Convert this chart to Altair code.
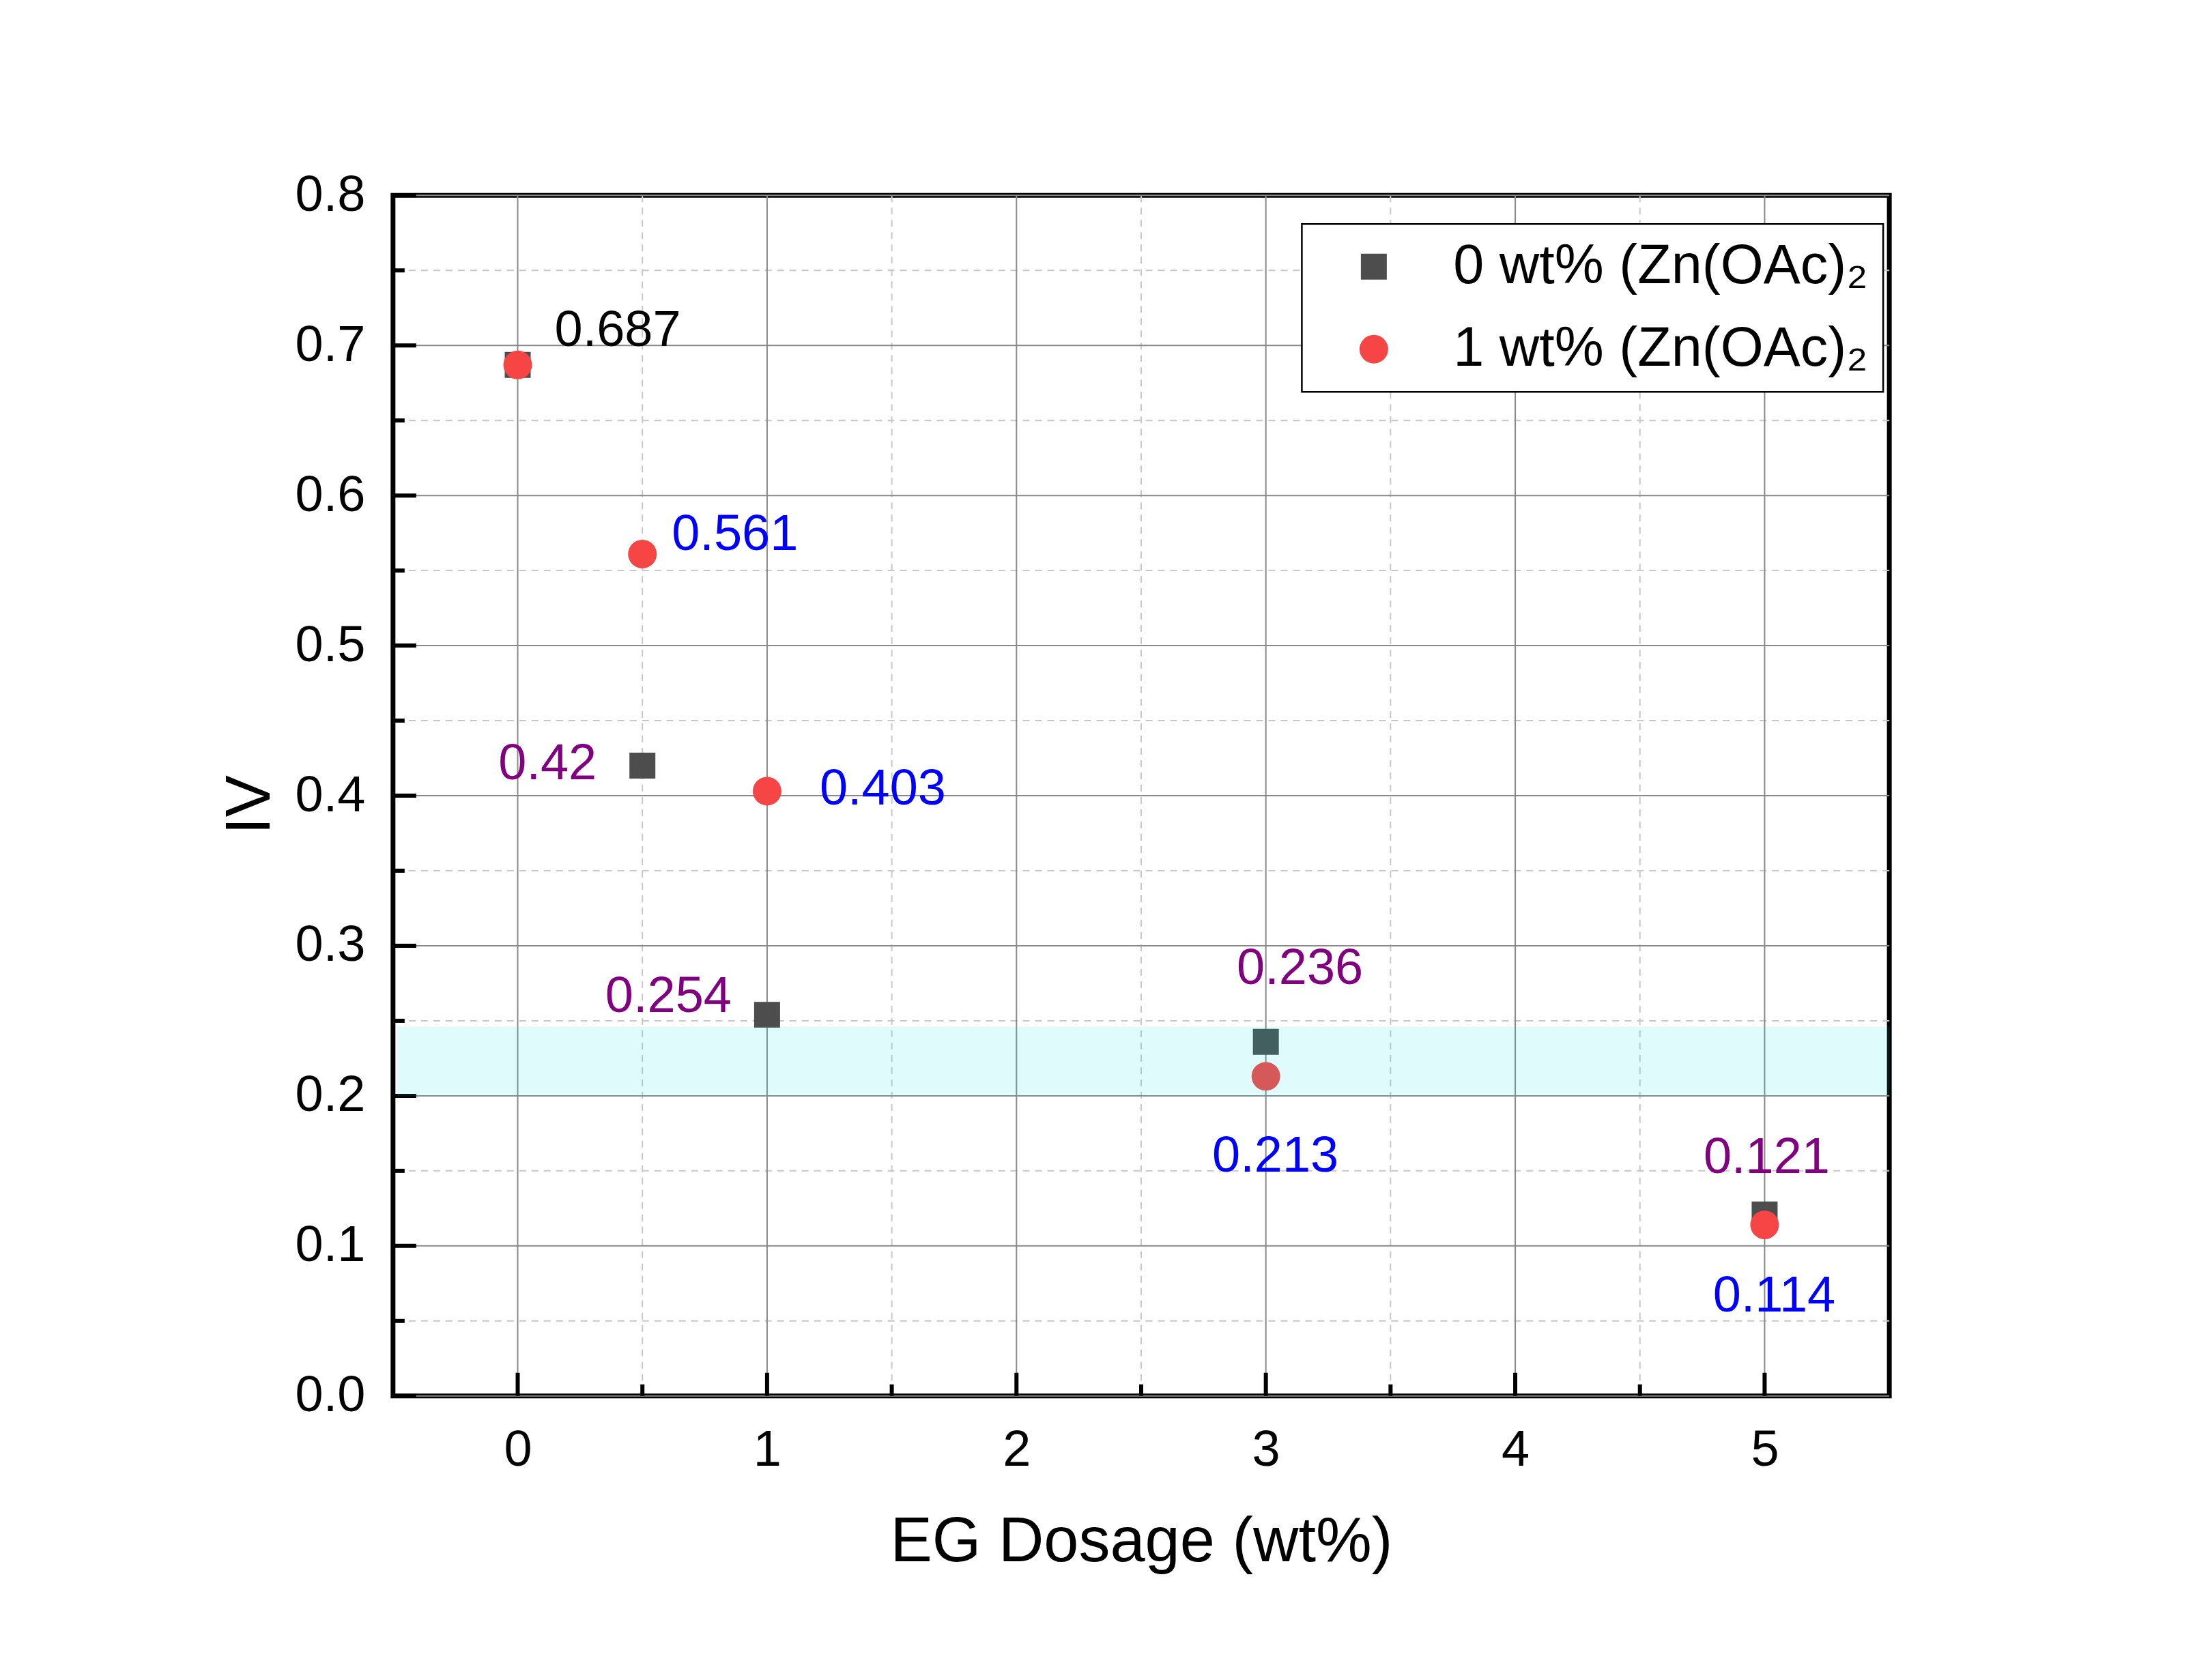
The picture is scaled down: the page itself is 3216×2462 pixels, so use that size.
import altair as alt
import pandas as pd

# ---------------- data ----------------
eg_dosage = [0, 0.5, 1, 3, 5]
iv_0wt = [0.687, 0.42, 0.254, 0.236, 0.121]
iv_1wt = [0.687, 0.561, 0.403, 0.213, 0.114]
series_names = ["0 wt% (Zn(OAc)\u2082", "1 wt% (Zn(OAc)\u2082"]

x_major = [0, 1, 2, 3, 4, 5]
x_minor = [0.5, 1.5, 2.5, 3.5, 4.5]
y_major = [0.0, 0.1, 0.2, 0.3, 0.4, 0.5, 0.6, 0.7, 0.8]
y_minor = [0.05, 0.15, 0.25, 0.35, 0.45, 0.55, 0.65, 0.75]
band_lo = [0.2]
band_hi = [0.246]

# ---------------- layout / style ----------------
W, H = 2193, 1760
FONT = "Liberation Sans"
xs = alt.Scale(domain=[-0.5, 5.5], nice=False, zero=False)
ys = alt.Scale(domain=[0.0, 0.8], nice=False, zero=False)
X_TITLE = "EG Dosage (wt%)"
Y_TITLE = "IV"

xaxis = alt.Axis(values=x_major, format="d", labelFontSize=74, labelColor="black",
                 labelPadding=44, ticks=False, tickSize=0, domain=False, grid=False,
                 titleFontSize=92, titleFontWeight="normal", titleColor="black",
                 titleX=W / 2, titleY=242, titleAlign="center", titleBaseline="alphabetic")
yaxis = alt.Axis(values=y_major, format=".1f", labelFontSize=74, labelColor="black",
                 labelPadding=41, ticks=False, tickSize=0, domain=False, grid=False,
                 titleFontSize=92, titleFontWeight="normal", titleColor="black",
                 titleAngle=270, titleX=-181, titleY=893, titleAlign="center",
                 titleBaseline="alphabetic")


def X(field):
    return alt.X(field, type="quantitative", scale=xs, axis=xaxis, title=X_TITLE)


def Y(field):
    return alt.Y(field, type="quantitative", scale=ys, axis=yaxis, title=Y_TITLE)


rows = []
for s, vals in zip(series_names, [iv_0wt, iv_1wt]):
    for i, (x, y) in enumerate(zip(eg_dosage, vals)):
        rows.append({"x": x, "iv": y, "series": s, "idx": i, "txt": str(y)})
pts = pd.DataFrame(rows)

grid_major_x = pd.DataFrame({"x": x_major})
grid_minor_x = pd.DataFrame({"x": x_minor})
grid_major_y = pd.DataFrame({"iv": y_major})
grid_minor_y = pd.DataFrame({"iv": y_minor})
band_df = pd.DataFrame({"iv": band_lo, "iv_hi": band_hi})

minor_style = dict(color="#c8c8c8", strokeWidth=2, strokeDash=[10, 8])
major_style = dict(color="#888888", strokeWidth=2)

g1 = alt.Chart(grid_minor_x).mark_rule(**minor_style).encode(x=X("x"))
g2 = alt.Chart(grid_minor_y).mark_rule(**minor_style).encode(y=Y("iv"))
g3 = alt.Chart(grid_major_x).mark_rule(**major_style).encode(x=X("x"))
g4 = alt.Chart(grid_major_y).mark_rule(**major_style).encode(y=Y("iv"))

color_scale = alt.Scale(domain=series_names, range=["#4d4d4d", "#f54545"])
shape_scale = alt.Scale(domain=series_names, range=["square", "circle"])
size_scale = alt.Scale(domain=series_names, range=[1444, 1764])

points = alt.Chart(pts).mark_point(filled=True, opacity=1, strokeWidth=0).encode(
    x=X("x"),
    y=Y("iv"),
    color=alt.Color("series:N", scale=color_scale,
                    legend=alt.Legend(title=None, orient="none", legendX=1332, legendY=42,
                                      strokeColor="black", fillColor="white",
                                      padding=22, symbolOffset=43, labelOffset=76,
                                      labelFontSize=81, labelLimit=3000, labelColor="black",
                                      symbolSize=1550, symbolStrokeWidth=0,
                                      symbolOpacity=1)),
    shape=alt.Shape("series:N", scale=shape_scale),
    size=alt.Size("series:N", scale=size_scale, legend=None),
    order=alt.Order("series:N", sort="ascending"),
)

band = alt.Chart(band_df).mark_rect(color="#00e5e5", opacity=0.12, stroke="#b0b0b0",
                                   strokeWidth=2, strokeOpacity=0.6).encode(
    y=Y("iv"), y2="iv_hi:Q",
    x=alt.value(6), x2=alt.value(W))

tick_style = dict(color="black", strokeWidth=6)
t1 = alt.Chart(grid_major_x).mark_rule(**tick_style).encode(
    x=X("x"), y=alt.value(H), y2=alt.value(H - 34))
t2 = alt.Chart(grid_minor_x).mark_rule(**tick_style).encode(
    x=X("x"), y=alt.value(H), y2=alt.value(H - 17))
t3 = alt.Chart(grid_major_y).mark_rule(**tick_style).encode(
    y=Y("iv"), x=alt.value(0), x2=alt.value(34))
t4 = alt.Chart(grid_minor_y).mark_rule(**tick_style).encode(
    y=Y("iv"), x=alt.value(0), x2=alt.value(17))

# value labels: (series index, point index, color, dx, dy, align)
label_specs = [
    (1, 0, "black", 54, -28, "left"),
    (1, 1, "#0000ff", 43, -6, "left"),
    (0, 1, "#800080", -67, 20, "right"),
    (1, 2, "#0000ff", 77, 20, "left"),
    (0, 2, "#800080", -52, -4, "right"),
    (0, 3, "#800080", 50, -85, "center"),
    (1, 3, "#0000ff", 14, 140, "center"),
    (0, 4, "#800080", 3, -61, "center"),
    (1, 4, "#0000ff", 14, 127, "center"),
]
labels = []
for si, pi, col, dx, dy, al in label_specs:
    labels.append(
        alt.Chart(pts).transform_filter(
            (alt.datum.series == series_names[si]) & (alt.datum.idx == pi)
        ).mark_text(fontSize=74, color=col, dx=dx, dy=dy, align=al, baseline="alphabetic").encode(
            x=X("x"),
            y=Y("iv"),
            text="txt:N",
        )
    )

chart = alt.layer(g1, g2, g3, g4, points, t1, t2, t3, t4, band, *labels).properties(
    width=W, height=H,
    autosize=alt.AutoSizeParams(type="none"),
    padding={"left": 568, "top": 278, "right": 440, "bottom": 408},
).configure(font=FONT).configure_view(stroke="black", strokeWidth=7).configure_legend(
    strokeWidth=2.5, rowPadding=39)

chart.save("out.html", embed_options={"renderer": "svg", "actions": False})
